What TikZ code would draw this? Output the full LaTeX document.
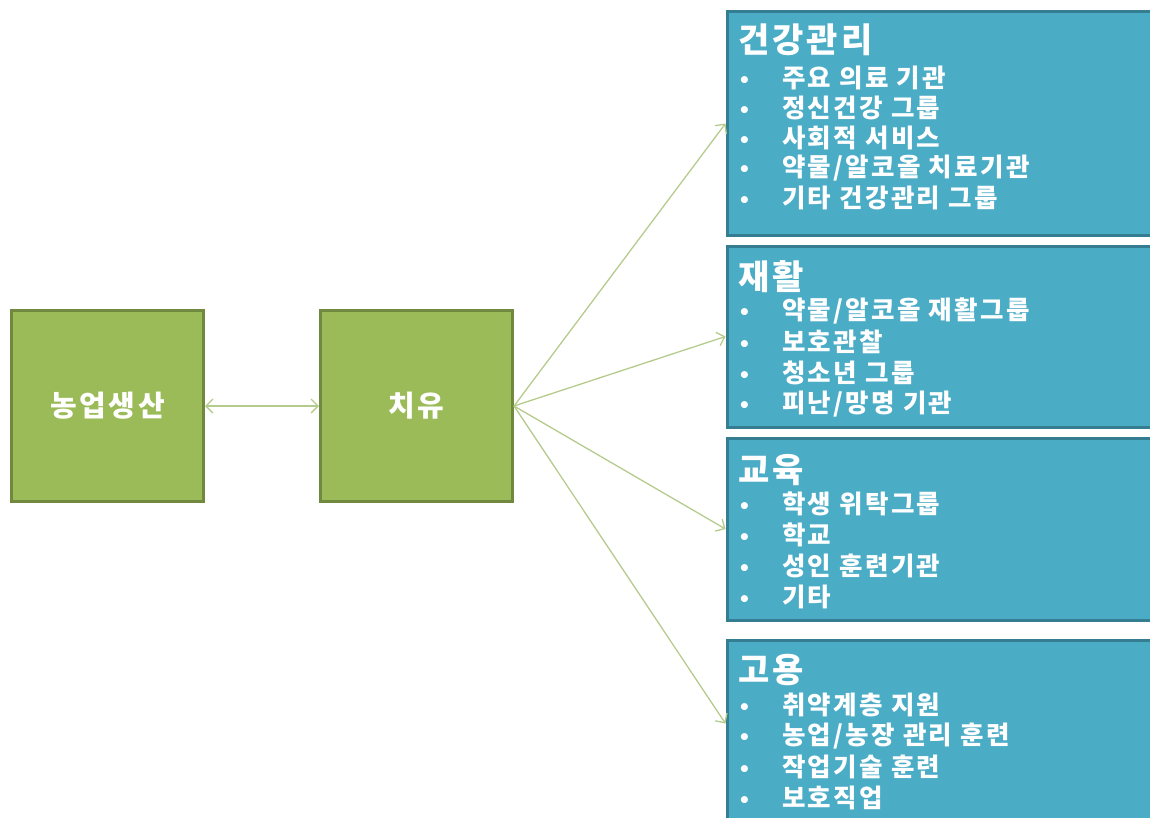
\documentclass[tikz,border=0pt]{standalone}
\usepackage{fontspec}
\newfontfamily\kr{Noto Sans CJK KR}[LetterSpace=9]
\newfontfamily\dv{DejaVu Sans}
\usetikzlibrary{arrows.meta}
\definecolor{gfill}{HTML}{9BBB59}
\definecolor{gline}{HTML}{71893F}
\definecolor{bfill}{HTML}{4BACC6}
\definecolor{bline}{HTML}{357D91}
\definecolor{arr}{HTML}{B5CB8C}
\newcommand\bul{\makebox[44pt][l]{\dv\fontsize{20}{20}\selectfont •}}
\begin{document}
\begin{tikzpicture}[x=1pt,y=-1pt,
  greenbox/.style={draw=gline, fill=gfill, line width=3pt, minimum width=192pt, minimum height=191pt, inner sep=0pt, text=white, font=\kr\bfseries\fontsize{29}{32}\selectfont},
  bluebox/.style={draw=bline, fill=bfill, line width=3pt, minimum width=440pt, inner sep=0pt, anchor=north west},
  titletxt/.style={anchor=west, inner sep=0pt, text=white, font=\kr\bfseries\fontsize{34}{36}\selectfont},
  itemtxt/.style={anchor=west, inner sep=0pt, text=white, font=\kr\bfseries\fontsize{25.5}{28}\selectfont},
  conn/.style={draw=arr, line width=1.3pt, -{Straight Barb[length=7pt,width=14pt]}}
]
\useasboundingbox (0,0) rectangle (1150,817);
\clip (0,0) rectangle (1150,817);

% green boxes
\node[greenbox] (g1) at (107.5,406) {농업생산};
\node[greenbox] (g2) at (416.5,406) {치유};

% blue boxes
\node[bluebox, minimum height=224pt] (b1) at (725.5,10) {};
\node[bluebox, minimum height=181pt] (b2) at (725.5,244.5) {};
\node[bluebox, minimum height=182pt] (b3) at (725.5,436.5) {};
\node[bluebox, minimum height=200pt] (b4) at (725.5,638.5) {};
\coordinate (t4) at ([yshift=-85pt]b4.north west);

% box 1
\node[titletxt] (h1) at (738,40) {건강관리};
\foreach \t [count=\i] in {주요 의료 기관, 정신건강 그룹, 사회적 서비스, 약물/알코올 치료기관, 기타 건강관리 그룹}
  \node[itemtxt] (b1i\i) at (738,{78+30*(\i-1)}) {\bul\t};

% box 2
\node[titletxt] (h2) at (738,277) {재활};
\foreach \t [count=\i] in {약물/알코올 재활그룹, 보호관찰, 청소년 그룹, 피난/망명 기관}
  \node[itemtxt] (b2i\i) at (738,{311+31*(\i-1)}) {\bul\t};

% box 3
\node[titletxt] (h3) at (738,470) {교육};
\foreach \t [count=\i] in {학생 위탁그룹, 학교, 성인 훈련기관, 기타}
  \node[itemtxt] (b3i\i) at (738,{504+31*(\i-1)}) {\bul\t};

% box 4
\node[titletxt] (h4) at (738,670) {고용};
\foreach \t [count=\i] in {취약계층 지원, 농업/농장 관리 훈련, 작업기술 훈련, 보호직업}
  \node[itemtxt] (b4i\i) at (738,{705+31*(\i-1)}) {\bul\t};

% connectors
\draw[conn, {Straight Barb[length=7pt,width=14pt]}-{Straight Barb[length=7pt,width=14pt]}] (g1) -- (g2);
\draw[conn] (g2.east) -- (b1.west);
\draw[conn] (g2.east) -- (b2.west);
\draw[conn] (g2.east) -- (b3.west);
\draw[conn] (g2.east) -- (t4);
\end{tikzpicture}
\end{document}
